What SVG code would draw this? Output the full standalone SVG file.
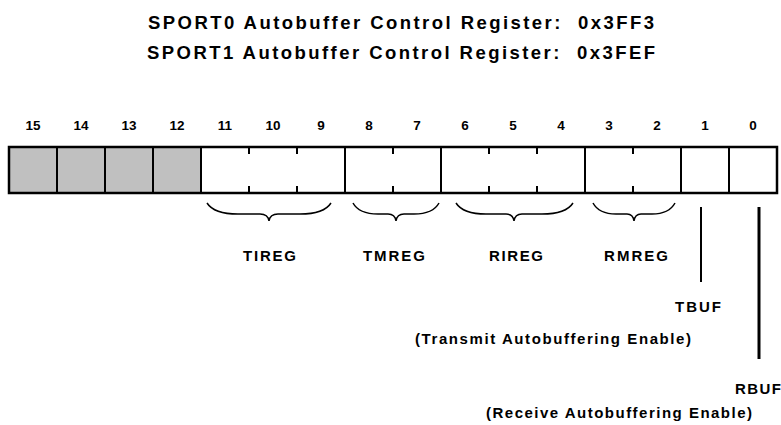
<svg xmlns="http://www.w3.org/2000/svg" width="781" height="425" viewBox="0 0 781 425">
<style>
text{font-family:"Liberation Sans",Arial,sans-serif;font-weight:bold;fill:#000;white-space:pre}
.t{font-size:18.5px}
.b{font-size:13.5px;text-anchor:middle}
.l{font-size:15px}
.cell{stroke:#000;stroke-width:2}
.tick{stroke:#000;stroke-width:2}
.brace{fill:none;stroke:#000;stroke-width:1.5}
.lead{stroke:#000}
</style>
<g id="title">
<text class="t" x="148" y="29" textLength="506" lengthAdjust="spacing">SPORT0 Autobuffer Control Register:  0x3FF3</text>
<text class="t" x="147" y="59" textLength="508" lengthAdjust="spacing">SPORT1 Autobuffer Control Register:  0x3FEF</text>
</g>
<g id="bit-numbers">
<text class="b" x="33" y="130">15</text>
<text class="b" x="81" y="130">14</text>
<text class="b" x="129" y="130">13</text>
<text class="b" x="177" y="130">12</text>
<text class="b" x="225" y="130">11</text>
<text class="b" x="273" y="130">10</text>
<text class="b" x="321" y="130">9</text>
<text class="b" x="369" y="130">8</text>
<text class="b" x="417" y="130">7</text>
<text class="b" x="465" y="130">6</text>
<text class="b" x="513" y="130">5</text>
<text class="b" x="561" y="130">4</text>
<text class="b" x="609" y="130">3</text>
<text class="b" x="657" y="130">2</text>
<text class="b" x="705" y="130">1</text>
<text class="b" x="753" y="130">0</text>
</g>
<g id="register">
<rect x="9" y="147" width="192" height="46" fill="#c0c0c0"/>
<rect x="9" y="147" width="768" height="46" fill="none" stroke="#000" stroke-width="2.5"/>
<g class="cell">
<line x1="57" y1="147" x2="57" y2="193"/>
<line x1="105" y1="147" x2="105" y2="193"/>
<line x1="153" y1="147" x2="153" y2="193"/>
<line x1="201" y1="147" x2="201" y2="193"/>
<line x1="345" y1="147" x2="345" y2="193"/>
<line x1="441" y1="147" x2="441" y2="193"/>
<line x1="585" y1="147" x2="585" y2="193"/>
<line x1="681" y1="147" x2="681" y2="193"/>
<line x1="729" y1="147" x2="729" y2="193"/>
</g>
<g class="tick">
<path d="M249 147v7M249 193v-7M297 147v7M297 193v-7M393 147v7M393 193v-7M489 147v7M489 193v-7M537 147v7M537 193v-7M633 147v7M633 193v-7"/>
</g>
</g>
<g id="connectors">
<path class="brace" d="M207 203 Q214 214 238 214 L260 214 Q268 214 269 221 Q270 214 278 214 L300 214 Q324 214 331 203"/>
<path class="brace" d="M353 203 Q359 214 378 214 L388 214 Q395 214 396 221 Q397 214 404 214 L414 214 Q433 214 439 203"/>
<path class="brace" d="M456 203 Q463 214 486 214 L506 214 Q513 214 514 221 Q515 214 522 214 L542 214 Q566 214 573 203"/>
<path class="brace" d="M593 203 Q599 214 616 214 L627 214 Q633 214 634 221 Q635 214 641 214 L652 214 Q669 214 675 203"/>
<line class="lead" x1="701" y1="207" x2="701" y2="282" stroke-width="2"/>
<line class="lead" x1="759" y1="207" x2="759" y2="359" stroke-width="3"/>
</g>
<g id="TIREG"><text class="l" x="243" y="261" textLength="53" lengthAdjust="spacing">TIREG</text></g>
<g id="TMREG"><text class="l" x="363" y="261" textLength="62" lengthAdjust="spacing">TMREG</text></g>
<g id="RIREG"><text class="l" x="489" y="261" textLength="54" lengthAdjust="spacing">RIREG</text></g>
<g id="RMREG"><text class="l" x="604" y="261" textLength="64" lengthAdjust="spacing">RMREG</text></g>
<g id="TBUF">
<text class="l" x="675" y="312" textLength="46" lengthAdjust="spacing">TBUF</text>
<text class="l" x="415" y="344" textLength="276" lengthAdjust="spacing">(Transmit Autobuffering Enable)</text>
</g>
<g id="RBUF">
<text class="l" x="735" y="394" textLength="46" lengthAdjust="spacing">RBUF</text>
<text class="l" x="486" y="418" textLength="266" lengthAdjust="spacing">(Receive Autobuffering Enable)</text>
</g>
</svg>
